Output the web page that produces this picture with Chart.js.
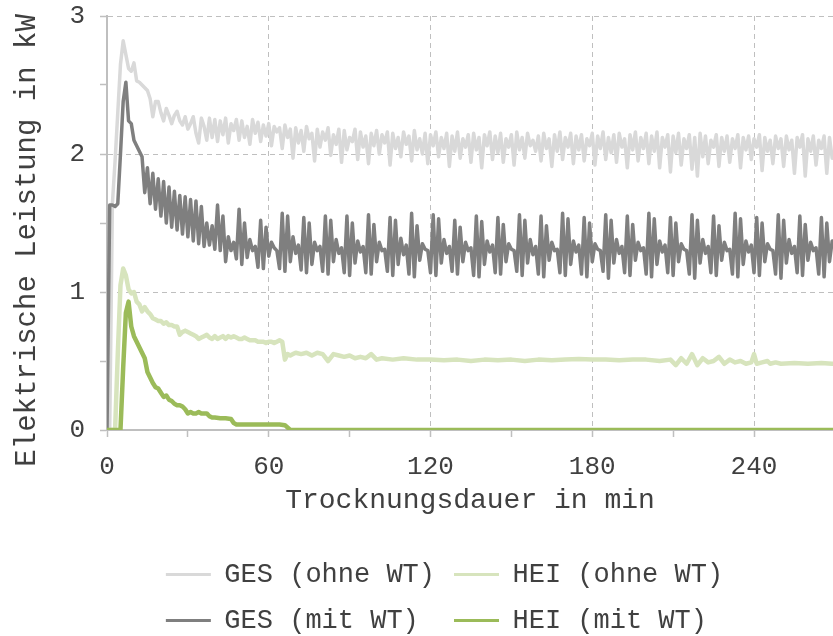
<!DOCTYPE html>
<html>
<head>
<meta charset="utf-8">
<title>Elektrische Leistung</title>
<script src="https://cdn.jsdelivr.net/npm/chart.js@4.4.1/dist/chart.umd.min.js"></script>
<style>
  html, body { margin: 0; padding: 0; background: #fff; }
</style>
</head>
<body>
<canvas id="leistungChart" width="833" height="636"></canvas>
<script>
// Gesamtleistung, 1 Minute Raster
const gesMinutes = Array.from({length: 270}, (_, i) => i);

const gesOhneKw = [
  0, 0, 1.64, 1.95, 2.30, 2.65, 2.82, 2.72, 2.62, 2.60,
  2.66, 2.53, 2.52, 2.50, 2.48, 2.46, 2.40, 2.27, 2.38, 2.38,
  2.30, 2.24, 2.33, 2.28, 2.22, 2.28, 2.31, 2.24, 2.21, 2.27,
  2.18, 2.22, 2.27, 2.15, 2.08, 2.26, 2.20, 2.10, 2.26, 2.12,
  2.25, 2.09, 2.24, 2.14, 2.26, 2.08, 2.22, 2.17, 2.25, 2.10,
  2.24, 2.12, 2.20, 2.07, 2.25, 2.15, 2.23, 2.09, 2.21, 2.13,
  2.22, 2.06, 2.20, 2.16, 2.19, 2.04, 2.21, 2.12, 2.18, 1.97,
  2.19, 2.08, 2.17, 2.02, 2.20, 2.11, 2.15, 1.95, 2.18, 2.05,
  2.16, 2.10, 2.19, 1.99, 2.14, 2.07, 2.18, 1.94, 2.17, 2.03,
  2.12, 2.09, 2.18, 1.96, 2.16, 2.05, 2.13, 1.93, 2.15, 2.06,
  2.17, 2.00, 2.14, 2.08, 2.16, 1.92, 2.15, 2.04, 2.12, 1.98,
  2.16, 2.07, 2.13, 1.95, 2.17, 2.03, 2.11, 2.00, 2.15, 1.93,
  2.14, 2.06, 2.16, 1.98, 2.12, 2.04, 2.15, 1.91, 2.13, 2.02,
  2.16, 1.97, 2.11, 2.05, 2.14, 1.94, 2.15, 2.03, 2.12, 1.90,
  2.14, 2.06, 2.16, 1.96, 2.13, 2.01, 2.15, 1.94, 2.11, 2.05,
  2.14, 1.92, 2.16, 2.03, 2.12, 1.97, 2.15, 2.06, 2.10, 2.02,
  2.13, 1.95, 2.15, 2.04, 2.11, 1.91, 2.14, 2.02, 2.16, 1.96,
  2.12, 2.05, 2.15, 1.93, 2.13, 2.03, 2.14, 1.95, 2.11, 2.06,
  2.15, 1.92, 2.13, 2.04, 2.16, 1.96, 2.12, 2.01, 2.14, 1.94,
  2.15, 2.05, 2.11, 1.90, 2.14, 2.03, 2.16, 1.95, 2.12, 2.04,
  2.15, 1.93, 2.13, 2.02, 2.16, 1.90, 2.12, 2.05, 2.14, 1.87,
  2.13, 2.01, 2.15, 1.92, 2.11, 2.04, 2.14, 1.89, 2.12, 1.84,
  2.15, 1.98, 2.13, 1.93, 2.10, 2.05, 2.14, 1.91, 2.12, 2.02,
  2.13, 1.94, 2.11, 2.04, 2.14, 1.90, 2.12, 2.03, 2.13, 1.96,
  2.11, 2.05, 2.14, 1.88, 2.12, 2.02, 2.10, 1.93, 2.13, 2.04,
  2.11, 1.91, 2.13, 2.03, 2.10, 1.86, 2.12, 2.05, 2.14, 1.84,
  2.11, 2.02, 2.13, 1.92, 2.10, 2.04, 2.13, 1.86, 2.12, 1.97
];

const gesMitKw = [
  0, 1.63, 1.63, 1.62, 1.64, 2.00, 2.38, 2.52, 2.24, 2.22,
  2.10, 2.06, 2.02, 1.98, 1.72, 1.90, 1.64, 1.86, 1.60, 1.82,
  1.55, 1.80, 1.50, 1.76, 1.47, 1.73, 1.45, 1.70, 1.42, 1.69,
  1.40, 1.67, 1.37, 1.66, 1.35, 1.62, 1.33, 1.50, 1.34, 1.48,
  1.31, 1.63, 1.30, 1.55, 1.22, 1.40, 1.30, 1.36, 1.24, 1.60,
  1.20, 1.50, 1.25, 1.38, 1.30, 1.33, 1.18, 1.52, 1.17, 1.47,
  1.26, 1.36, 1.32, 1.30, 1.17, 1.57, 1.15, 1.55, 1.22, 1.40,
  1.28, 1.34, 1.16, 1.54, 1.14, 1.50, 1.20, 1.36, 1.30, 1.33,
  1.15, 1.55, 1.13, 1.52, 1.22, 1.38, 1.28, 1.32, 1.14, 1.55,
  1.12, 1.50, 1.21, 1.37, 1.29, 1.33, 1.14, 1.56, 1.13, 1.49,
  1.22, 1.36, 1.30, 1.31, 1.15, 1.54, 1.12, 1.52, 1.20, 1.39,
  1.27, 1.34, 1.13, 1.57, 1.11, 1.48, 1.23, 1.35, 1.31, 1.30,
  1.14, 1.56, 1.12, 1.53, 1.21, 1.38, 1.28, 1.33, 1.15, 1.52,
  1.13, 1.47, 1.22, 1.36, 1.30, 1.32, 1.12, 1.55, 1.11, 1.51,
  1.20, 1.37, 1.29, 1.34, 1.14, 1.54, 1.13, 1.49, 1.22, 1.35,
  1.31, 1.30, 1.15, 1.56, 1.12, 1.52, 1.21, 1.38, 1.27, 1.33,
  1.13, 1.55, 1.11, 1.48, 1.23, 1.36, 1.30, 1.31, 1.14, 1.57,
  1.12, 1.53, 1.20, 1.37, 1.29, 1.34, 1.13, 1.54, 1.11, 1.50,
  1.22, 1.35, 1.31, 1.30, 1.15, 1.56, 1.10, 1.52, 1.21, 1.38,
  1.28, 1.33, 1.14, 1.55, 1.12, 1.49, 1.23, 1.36, 1.30, 1.32,
  1.13, 1.57, 1.11, 1.53, 1.20, 1.37, 1.29, 1.34, 1.14, 1.54,
  1.12, 1.50, 1.22, 1.35, 1.31, 1.30, 1.13, 1.56, 1.10, 1.52,
  1.21, 1.38, 1.28, 1.33, 1.14, 1.55, 1.12, 1.48, 1.23, 1.36,
  1.30, 1.31, 1.13, 1.57, 1.11, 1.53, 1.20, 1.37, 1.29, 1.34,
  1.14, 1.54, 1.12, 1.50, 1.22, 1.35, 1.31, 1.30, 1.13, 1.56,
  1.10, 1.52, 1.21, 1.38, 1.28, 1.33, 1.14, 1.55, 1.12, 1.49,
  1.23, 1.36, 1.30, 1.32, 1.13, 1.54, 1.11, 1.50, 1.22, 1.37
];

// Heizleistung
const heiOhneMinutes = [
  0, 3, 4, 5, 6, 7, 8, 9, 10, 11, 12, 13, 14, 15, 16, 17, 18, 19, 20,
  21, 22, 23, 24, 25, 26, 27, 28, 29, 30, 31, 32, 33, 34, 35, 36, 37, 38, 39, 40,
  41, 42, 43, 44, 45, 46, 47, 48, 49, 50, 51, 52, 53, 54, 55, 56, 57, 58, 59, 60,
  61, 62, 63, 64, 65, 66, 67, 68, 69, 70, 72, 74, 76, 78, 80, 82, 84, 86, 88, 90,
  92, 94, 96, 98, 100, 102, 106, 110, 115, 120, 125, 130, 135, 140, 145, 150,
  155, 160, 165, 170, 175, 180, 185, 190, 195, 200, 205, 209, 211, 213, 215, 217,
  219, 221, 223, 225, 227, 229, 231, 233, 235, 237, 239, 240, 241, 243, 245, 246,
  248, 250, 255, 260, 265, 269
];
const heiOhneKw = [
  0, 0, 0.55, 1.05, 1.17, 1.12, 1.02, 0.99, 1.00, 0.93, 0.91, 0.86, 0.89, 0.86, 0.84, 0.81, 0.80, 0.79, 0.79,
  0.77, 0.78, 0.76, 0.76, 0.75, 0.75, 0.69, 0.71, 0.72, 0.71, 0.70, 0.69, 0.68, 0.66, 0.67, 0.68, 0.69, 0.67, 0.66, 0.68,
  0.66, 0.67, 0.68, 0.66, 0.68, 0.67, 0.68, 0.67, 0.66, 0.66, 0.67, 0.66, 0.65, 0.65, 0.65, 0.64, 0.64, 0.64, 0.63, 0.64,
  0.64, 0.63, 0.64, 0.65, 0.64, 0.51, 0.55, 0.54, 0.55, 0.56, 0.55, 0.56, 0.54, 0.56, 0.55, 0.50, 0.55, 0.54, 0.53, 0.54,
  0.52, 0.53, 0.52, 0.55, 0.51, 0.52, 0.51, 0.52, 0.51, 0.51, 0.505, 0.51, 0.50, 0.51, 0.505, 0.51,
  0.50, 0.51, 0.505, 0.51, 0.515, 0.51, 0.51, 0.505, 0.51, 0.51, 0.50, 0.51, 0.47, 0.52, 0.48, 0.55,
  0.47, 0.52, 0.49, 0.50, 0.53, 0.48, 0.51, 0.49, 0.50, 0.48, 0.49, 0.55, 0.48, 0.49, 0.50, 0.48,
  0.49, 0.48, 0.485, 0.48, 0.485, 0.48
];

const heiMitMinutes = [
  0, 5, 6, 7, 8, 9, 10, 11, 12, 13, 14, 15, 16, 17, 18, 19, 20, 21, 22, 23, 24,
  25, 26, 27, 28, 29, 30, 31, 32, 33, 34, 35, 36, 37, 38, 39, 40, 42, 44, 46, 47,
  48, 52, 56, 60, 64, 66, 68, 269
];
const heiMitKw = [
  0, 0, 0.45, 0.85, 0.93, 0.75, 0.68, 0.64, 0.60, 0.56, 0.52, 0.42, 0.38, 0.34, 0.31, 0.30, 0.27, 0.24, 0.25, 0.22, 0.21,
  0.19, 0.18, 0.18, 0.17, 0.15, 0.12, 0.13, 0.12, 0.12, 0.13, 0.12, 0.12, 0.12, 0.10, 0.09, 0.09, 0.085, 0.085, 0.08, 0.05,
  0.04, 0.04, 0.04, 0.04, 0.04, 0.035, 0, 0
];

const xTicks = [0, 30, 60, 90, 120, 150, 180, 210, 240];

const monoFont = '"Liberation Mono", "Courier New", monospace';
const textColor = '#404040';
const gridColor = '#bfbfbf';

function toPoints(xs, ys) {
  return xs.map((x, i) => ({x: x, y: ys[i]}));
}

// legend sits a bit right of the canvas centre and a bit lower in the original
const legendShift = {
  id: 'legendShift',
  afterLayout(chart) {
    const lg = chart.legend;
    lg.left += 28;
    lg.right += 28;
    lg.top += 8;
    lg.bottom += 8;
  }
};

const ctx = document.getElementById('leistungChart').getContext('2d');
const chart = new Chart(ctx, {
  type: 'line',
  data: {
    datasets: [
      {
        label: 'GES (ohne WT)',
        data: toPoints(gesMinutes, gesOhneKw),
        borderColor: '#d9d9d9',
        backgroundColor: '#d9d9d9',
        borderWidth: 3.5,
        order: 3
      },
      {
        label: 'HEI (ohne WT)',
        data: toPoints(heiOhneMinutes, heiOhneKw),
        borderColor: '#d7e4bd',
        backgroundColor: '#d7e4bd',
        borderWidth: 4.5,
        order: 2
      },
      {
        label: 'GES (mit WT) ',
        data: toPoints(gesMinutes, gesMitKw),
        borderColor: '#7f7f7f',
        backgroundColor: '#7f7f7f',
        borderWidth: 3.5,
        order: 1
      },
      {
        label: 'HEI (mit WT) ',
        data: toPoints(heiMitMinutes, heiMitKw),
        borderColor: '#9bbb59',
        backgroundColor: '#9bbb59',
        borderWidth: 4.5,
        order: 0
      }
    ]
  },
  options: {
    responsive: false,
    animation: false,
    layout: {padding: {top: 0, right: 0, bottom: 0, left: 0}},
    elements: {
      point: {radius: 0},
      line: {tension: 0, borderJoinStyle: 'round', borderCapStyle: 'round'}
    },
    plugins: {
      tooltip: {enabled: false},
      legend: {
        position: 'bottom',
        align: 'center',
        labels: {
          boxWidth: 45,
          boxHeight: 3,
          padding: 19,
          color: textColor,
          font: {family: monoFont, size: 27},
          sort: (a, b) => a.datasetIndex - b.datasetIndex,
          generateLabels: (c) => Chart.defaults.plugins.legend.labels.generateLabels(c)
            .map(item => Object.assign(item, {lineWidth: 0}))
        }
      }
    },
    scales: {
      x: {
        type: 'linear',
        min: 0,
        max: 269.3,
        afterBuildTicks: (axis) => { axis.ticks = xTicks.map(v => ({value: v})); },
        afterFit: (axis) => { axis.height = 104; },
        ticks: {
          autoSkip: false,
          maxRotation: 0,
          padding: 15,
          color: textColor,
          font: {family: monoFont, size: 26},
          callback: (v) => (v % 60 === 0 ? String(v) : '')
        },
        grid: {
          color: (c) => (c.tick && c.tick.value > 0 && c.tick.value % 60 === 0 ? gridColor : 'rgba(0,0,0,0)'),
          lineWidth: 1,
          tickLength: 7,
          tickColor: gridColor,
          tickWidth: 1.5
        },
        border: {color: gridColor, width: 2, dash: [5, 4]},
        title: {
          display: true,
          text: 'Trocknungsdauer in min',
          color: textColor,
          font: {family: monoFont, size: 28},
          padding: {top: 4, bottom: 17}
        }
      },
      y: {
        min: 0,
        max: 3,
        afterFit: (axis) => {
          axis.width = 107;
          axis.paddingTop = 16;
          axis.paddingBottom = 0;
        },
        ticks: {
          stepSize: 0.5,
          padding: 15,
          color: textColor,
          font: {family: monoFont, size: 26},
          callback: (v) => (v % 1 === 0 ? String(v) : '')
        },
        grid: {
          color: (c) => (c.tick && c.tick.value > 0 && c.tick.value % 1 === 0 ? gridColor : 'rgba(0,0,0,0)'),
          lineWidth: 1,
          tickLength: 7,
          tickColor: gridColor,
          tickWidth: 1.5
        },
        border: {color: gridColor, width: 2, dash: [5, 4]},
        title: {
          display: true,
          text: 'Elektrische Leistung in kW  ',
          color: textColor,
          font: {family: monoFont, size: 29},
          padding: {top: 10, bottom: 0}
        }
      }
    }
  },
  plugins: [legendShift]
});
</script>
</body>
</html>
